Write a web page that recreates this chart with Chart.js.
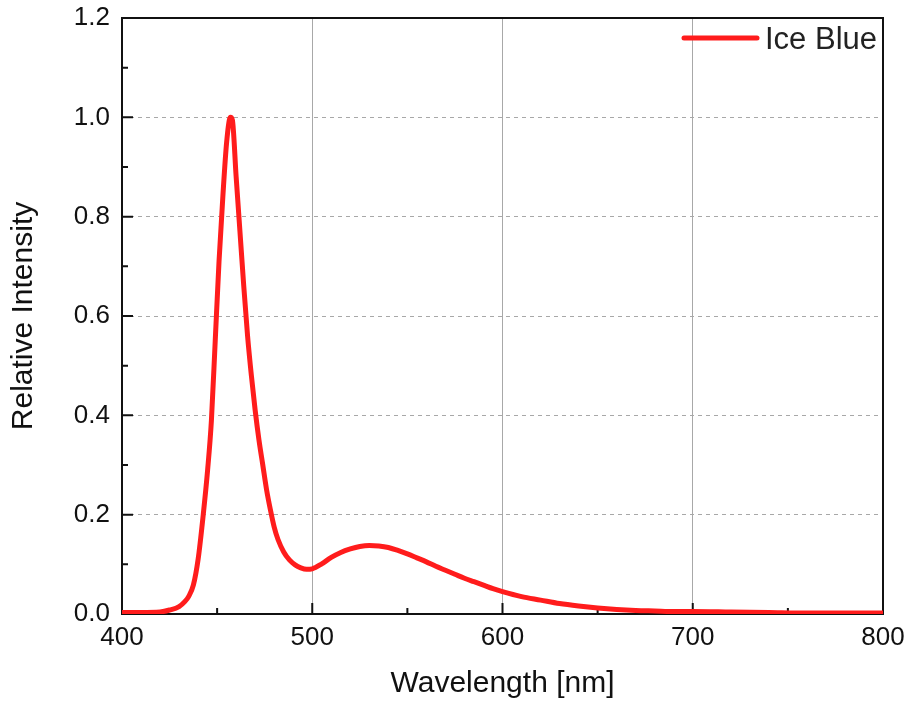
<!DOCTYPE html>
<html>
	<head>
		<title>Ice Blue Spectrum</title>
		<meta charset="UTF-8">
		<script src="https://cdn.jsdelivr.net/npm/chart.js@4.4.1/dist/chart.umd.min.js"></script>
		<style>
			body { margin: 0; background: #fff; }
		</style>
	</head>
	<body>
		<canvas id="myChart" width="907" height="706"></canvas>
		<script>
			// values
			const wavelengths = [400, 410, 420, 425, 430, 433, 435, 437.5, 440, 442.7, 445, 447, 449, 451, 453, 455, 457, 458, 460, 462, 464, 466, 468, 470, 472, 474, 476, 478, 480, 482, 485, 488, 491, 494, 497, 500, 505, 510, 515, 520, 525, 530, 535, 540, 545, 550, 555, 560, 565, 570, 575, 580, 585, 590, 595, 600, 610, 620, 630, 640, 650, 660, 670, 680, 690, 700, 720, 740, 760, 780, 800];
			const intensity = [0.003, 0.003, 0.004, 0.008, 0.015, 0.025, 0.035, 0.058, 0.11, 0.2, 0.29, 0.39, 0.55, 0.71, 0.84, 0.95, 1.0, 0.995, 0.88, 0.77, 0.66, 0.56, 0.48, 0.41, 0.35, 0.30, 0.25, 0.21, 0.175, 0.15, 0.125, 0.109, 0.099, 0.093, 0.09, 0.091, 0.101, 0.114, 0.124, 0.131, 0.136, 0.138, 0.137, 0.134, 0.128, 0.121, 0.113, 0.105, 0.096, 0.088, 0.08, 0.072, 0.065, 0.058, 0.051, 0.045, 0.035, 0.028, 0.021, 0.016, 0.012, 0.009, 0.007, 0.006, 0.005, 0.005, 0.004, 0.003, 0.002, 0.002, 0.002];
			const seriesLabel = 'Ice Blue';
			const xTicks = [400, 500, 600, 700, 800];
			const yTicks = [0, 0.2, 0.4, 0.6, 0.8, 1.0, 1.2];

			const points = wavelengths.map((w, i) => ({ x: w, y: intensity[i] }));
			const fontFamily = '"Liberation Sans", Arial, sans-serif';

			// frame + inward ticks, drawn under the curve
			const framePlugin = {
				id: 'frame',
				beforeDatasetsDraw(chart) {
					const { ctx, chartArea: a, scales: { x, y } } = chart;
					ctx.save();
					ctx.strokeStyle = '#111';
					ctx.lineWidth = 2;
					ctx.strokeRect(a.left, a.top, a.right - a.left, a.bottom - a.top);
					ctx.beginPath();
					for (let v = 400; v <= 800; v += 50) {
						const px = x.getPixelForValue(v);
						const len = v % 100 === 0 ? 11 : 6;
						ctx.moveTo(px, a.bottom);
						ctx.lineTo(px, a.bottom - len);
					}
					for (let i = 0; i <= 12; i++) {
						const py = y.getPixelForValue(i / 10);
						const len = i % 2 === 0 ? 11 : 6;
						ctx.moveTo(a.left, py);
						ctx.lineTo(a.left + len, py);
					}
					ctx.stroke();
					ctx.restore();
				},
				afterDraw(chart) {
					const { ctx, chartArea: a } = chart;
					const ds = chart.data.datasets[0];
					ctx.save();
					ctx.strokeStyle = ds.borderColor;
					ctx.lineWidth = 5;
					ctx.lineCap = 'round';
					ctx.beginPath();
					ctx.moveTo(a.right - 199, a.top + 20);
					ctx.lineTo(a.right - 126, a.top + 20);
					ctx.stroke();
					ctx.fillStyle = '#222';
					ctx.font = '31px ' + fontFamily;
					ctx.textBaseline = 'middle';
					ctx.fillText(ds.label, a.right - 118, a.top + 22);
					ctx.restore();
				}
			};

			const ctx = document.getElementById('myChart').getContext('2d');
			const chart = new Chart(ctx, {
				type: 'line',
				data: {
					datasets: [{
						label: seriesLabel,
						data: points,
						borderColor: '#ff1c1c',
						borderWidth: 5,
						pointRadius: 0,
						cubicInterpolationMode: 'monotone',
						fill: false
					}]
				},
				options: {
					responsive: false,
					animation: false,
					layout: { padding: { top: 18, right: 24, left: 0, bottom: 0 } },
					plugins: {
						legend: { display: false },
						tooltip: { enabled: false }
					},
					scales: {
						x: {
							type: 'linear',
							min: 400,
							max: 800,
							afterBuildTicks: s => { s.ticks = xTicks.map(v => ({ value: v })); },
							afterFit: s => { s.height = 92; s.paddingLeft = 0; s.paddingRight = 0; },
							ticks: {
								color: '#111',
								font: { family: fontFamily, size: 26 },
								padding: 8,
								maxRotation: 0
							},
							grid: {
								drawTicks: false,
								color: c => (c.tick && (c.tick.value === 400 || c.tick.value === 800)) ? 'rgba(0,0,0,0)' : '#a8a8a8',
								lineWidth: 1
							},
							border: { display: false },
							title: {
								display: true,
								text: 'Wavelength [nm]',
								color: '#111',
								font: { family: fontFamily, size: 30 },
								padding: { top: 0, bottom: 4 }
							}
						},
						y: {
							min: 0,
							max: 1.2,
							afterBuildTicks: s => { s.ticks = yTicks.map(v => ({ value: v })); },
							afterFit: s => { s.width = 122; s.paddingTop = 0; s.paddingBottom = 0; },
							ticks: {
								color: '#111',
								font: { family: fontFamily, size: 26 },
								padding: 12,
								callback: v => v.toFixed(1)
							},
							grid: {
								drawTicks: false,
								color: c => (c.tick && (c.tick.value < 0.1 || c.tick.value > 1.1)) ? 'rgba(0,0,0,0)' : '#a8a8a8',
								lineWidth: 1
							},
							border: { display: false, dash: [4, 4] },
							title: {
								display: true,
								text: 'Relative Intensity',
								color: '#111',
								font: { family: fontFamily, size: 30 },
								padding: { top: 6, bottom: 0 }
							}
						}
					}
				},
				plugins: [framePlugin]
			});
		</script>
	</body>
</html>
